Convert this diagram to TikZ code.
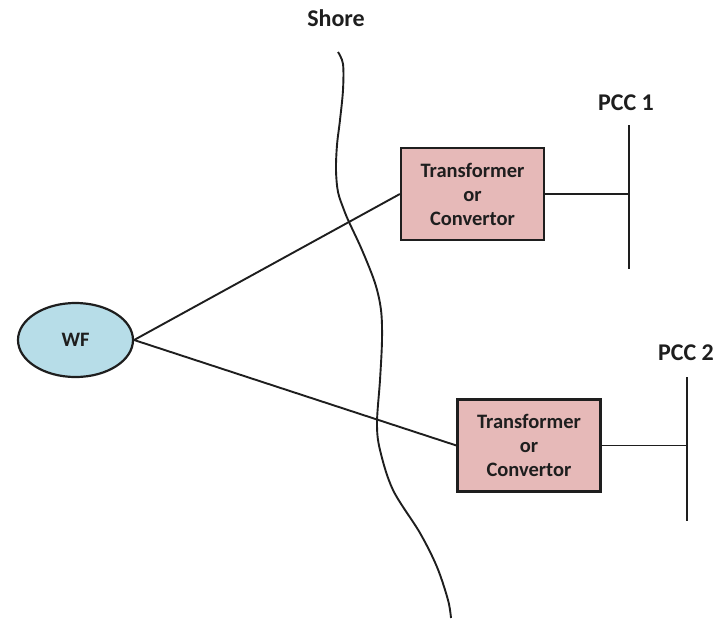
\documentclass[tikz,border=0pt]{standalone}
\usepackage{fontspec}
\setmainfont{Carlito}
\usetikzlibrary{shapes.geometric}
\definecolor{wfblue}{HTML}{B7DDE8}
\definecolor{boxpink}{HTML}{E6B9B8}
\definecolor{ink}{HTML}{1E1E1E}
\tikzset{
  every node/.style={text=ink, font=\bfseries\fontsize{20.5}{24}\selectfont},
  wire/.style={draw=ink, line width=1.9pt},
  farm/.style={ellipse, draw=ink, line width=2.2pt, fill=wfblue,
    minimum width=115pt, minimum height=74pt, inner sep=0pt},
  conv/.style={rectangle, draw=ink, line width=2.2pt, fill=boxpink,
    minimum width=143pt, minimum height=92pt, inner sep=0pt, align=center},
  label/.style={inner sep=0pt, font=\bfseries\fontsize{24}{28}\selectfont}
}
\begin{document}
\begin{tikzpicture}[x=1pt, y=-1pt]
\useasboundingbox (0,0) rectangle (725,624);

% labels
\node[label] (shore) at (336,18) {Shore};
\node[label] (pcc1) at (626,103) {PCC 1};
\node[label] (pcc2) at (686,353) {PCC 2};

% coastline
\draw[wire] plot[smooth, tension=0.55] coordinates {
  (338,52) (343,64) (343,90) (340,120) (337,145) (336,170) (338,192)
  (344,210) (349,222) (362,250) (375,283) (381,310) (382,340) (380,380)
  (377,423) (380,450) (393,490) (420,533) (437,567) (448,600) (451,618)};

% wind farm and conversion stations
\node[farm] (wf) at (75.5,340) {WF};
\node[conv] (tc1) at (472.5,194) {Transformer\\or\\Convertor};
\node[conv] (tc2) at (529,445.5) {Transformer\\or\\Convertor};

% busbars
\coordinate (b1top) at (629,125);
\coordinate (b1bot) at (629,269);
\coordinate (b2top) at (687,377);
\coordinate (b2bot) at (687,521);
\draw[wire] (b1top) -- (b1bot);
\draw[wire] (b2top) -- (b2bot);

% connections
\draw[wire] (wf.east) -- (tc1.west);
\draw[wire] (wf.east) -- (tc2.west);
\draw[wire] (tc1.east) -- (tc1.east -| b1top);
\draw[wire] (tc2.east) -- (tc2.east -| b2top);
\end{tikzpicture}
\end{document}
